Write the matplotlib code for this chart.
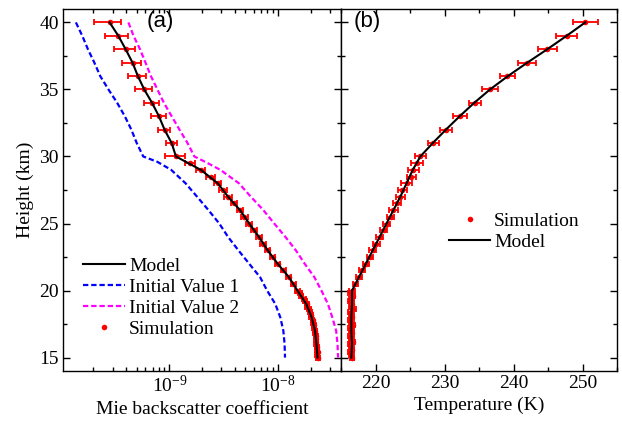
import matplotlib.pyplot as plt
import numpy as np
from matplotlib.ticker import MultipleLocator, FixedLocator, LogLocator, NullFormatter

plt.rcParams['font.family'] = 'Liberation Serif'
plt.rcParams['mathtext.fontset'] = 'stix'
plt.rcParams['font.size'] = 14

# model profiles, 40 km down to 15 km every 1 km
model_height = np.arange(40, 14, -1)
mie_model = [2.82e-10, 3.39e-10, 3.96e-10, 4.58e-10, 5.13e-10, 5.87e-10, 6.93e-10,
             8.02e-10, 9.03e-10, 1.05e-9, 1.15e-9, 1.95e-9, 2.79e-9, 3.47e-9,
             4.47e-9, 5.43e-9, 6.68e-9, 8.04e-9, 9.93e-9, 1.26e-8, 1.51e-8,
             1.82e-8, 2.04e-8, 2.19e-8, 2.26e-8, 2.31e-8]
temp_model = [250.4, 247.7, 244.9, 242.0, 239.2, 236.6, 234.3, 232.2, 230.2, 228.3,
              226.5, 225.4, 224.5, 223.6, 222.6, 221.6, 220.6, 219.6, 218.6, 217.6,
              216.6, 216.6, 216.5, 216.5, 216.6, 216.5]

# simulation heights: 1 km above 30 km, 0.5 km down to 20 km, 0.2 km below
sim_height = np.concatenate([np.arange(40, 29.5, -1.0),
                             np.arange(29.5, 19.9, -0.5),
                             np.arange(19.8, 14.9, -0.2)])
mie_sim = [2.82e-10, 3.39e-10, 3.96e-10, 4.58e-10, 5.13e-10, 5.87e-10, 6.93e-10,
           8.02e-10, 9.03e-10, 1.05e-9, 1.15e-9,
           1.55e-9, 1.95e-9, 2.40e-9, 2.79e-9, 3.13e-9, 3.47e-9, 3.94e-9, 4.47e-9,
           4.90e-9, 5.43e-9, 6.03e-9, 6.68e-9, 7.33e-9, 8.04e-9, 8.91e-9, 9.93e-9,
           1.12e-8, 1.26e-8, 1.38e-8, 1.51e-8,
           1.60e-8, 1.64e-8, 1.74e-8, 1.77e-8, 1.84e-8, 1.86e-8, 1.94e-8, 1.96e-8,
           2.02e-8, 2.03e-8, 2.08e-8, 2.09e-8, 2.14e-8, 2.15e-8, 2.20e-8, 2.20e-8,
           2.24e-8, 2.23e-8, 2.26e-8, 2.25e-8, 2.29e-8, 2.28e-8, 2.31e-8, 2.30e-8,
           2.32e-8]
mie_rel_err = [0.28, 0.24, 0.22, 0.20, 0.18, 0.18, 0.16, 0.15, 0.13, 0.11, 0.20,
               0.10, 0.09, 0.09, 0.08, 0.08, 0.08, 0.07, 0.07, 0.07, 0.07,
               0.06, 0.06, 0.06, 0.06, 0.06, 0.05, 0.05, 0.05, 0.05, 0.05] + [0.04] * 25
temp_sim = [250.4, 247.7, 244.9, 242.0, 239.1, 236.6, 234.4, 232.3, 230.2, 228.4, 226.5,
            226.0, 225.5, 225.2, 224.5, 223.9, 223.6, 223.1, 222.6, 222.2, 221.6,
            221.2, 220.6, 220.1, 219.6, 219.2, 218.6, 218.1, 217.6, 217.1, 216.6,
            216.4, 216.7, 216.5, 216.3, 216.6, 216.5, 216.8, 216.4, 216.5, 216.6,
            216.3, 216.5, 216.7, 216.4, 216.5, 216.6, 216.4, 216.5, 216.7, 216.3,
            216.5, 216.6, 216.4, 216.5, 216.6]
temp_err = [1.8, 1.5, 1.4, 1.3, 1.1, 1.15, 0.85, 1.0, 0.9, 0.75, 0.75,
            0.9, 0.8, 0.6, 0.75, 0.65, 0.7, 0.6, 0.6, 0.55, 0.55,
            0.5, 0.5, 0.5, 0.5, 0.45, 0.45, 0.45, 0.4, 0.4, 0.4] + [0.35] * 25

# initial guesses for the retrieval
init1_height = [40, 39, 38, 37, 36, 35, 34, 33, 32, 31, 30, 29.6, 29, 28, 27, 26, 25,
                24, 23, 22, 21, 20, 19, 18, 17, 16, 15]
init1 = [1.38e-10, 1.58e-10, 1.78e-10, 2.04e-10, 2.31e-10, 2.75e-10, 3.31e-10,
         3.89e-10, 4.47e-10, 5.01e-10, 5.75e-10, 7.76e-10, 1.04e-9, 1.41e-9,
         1.80e-9, 2.29e-9, 2.88e-9, 3.47e-9, 4.32e-9, 5.43e-9, 6.84e-9, 7.94e-9,
         9.44e-9, 1.05e-8, 1.12e-8, 1.15e-8, 1.16e-8]
init2_height = [40, 39, 38, 37, 36, 35, 34, 33, 32, 31, 30, 29.5, 29, 28, 27, 26, 25,
                24, 23, 22, 21, 20, 19, 18, 17, 16, 15]
init2 = [4.20e-10, 4.68e-10, 5.37e-10, 6.03e-10, 6.76e-10, 7.76e-10, 8.91e-10,
         1.05e-9, 1.24e-9, 1.47e-9, 1.70e-9, 2.26e-9, 2.95e-9, 4.37e-9, 5.62e-9,
         7.33e-9, 9.23e-9, 1.17e-8, 1.46e-8, 1.76e-8, 2.16e-8, 2.51e-8, 2.88e-8,
         3.16e-8, 3.43e-8, 3.53e-8, 3.57e-8]

red = '#ff0000'
dash = (0, (2.4, 1.3))

fig = plt.figure(figsize=(6.22, 4.22), dpi=100)
ax1 = fig.add_axes([63 / 622, 51 / 422, 278 / 622, 362 / 422])
ax2 = fig.add_axes([341 / 622, 51 / 422, 276 / 622, 362 / 422])

# (a) Mie backscatter
mie_err = np.array(mie_sim) * np.array(mie_rel_err)
ax1.plot(init1, init1_height, color='#0000ff', lw=1.6, ls=dash, label='Initial Value 1', zorder=2)
ax1.plot(init2, init2_height, color='#ff00ff', lw=1.6, ls=dash, label='Initial Value 2', zorder=2)
ax1.errorbar(mie_sim, sim_height, xerr=mie_err, fmt='none', ecolor=red,
             elinewidth=1.3, capsize=2.5, capthick=1.3, zorder=3)
ax1.plot(mie_sim, sim_height, 'o', color=red, ms=4, mec='none', label='Simulation', zorder=4)
ax1.plot(mie_model, model_height, color='black', lw=1.5, label='Model', zorder=5)

ax1.set_xscale('log')
ax1.set_xlim(1.05e-10, 3.8e-8)
ax1.xaxis.set_major_locator(FixedLocator([1e-9, 1e-8]))
ax1.xaxis.set_minor_locator(LogLocator(base=10, subs=np.arange(2, 10), numticks=20))
ax1.xaxis.set_minor_formatter(NullFormatter())
ax1.set_xlabel('Mie backscatter coefficient', labelpad=3)
ax1.set_ylabel('Height (km)', labelpad=4)
ax1.text(0.30, 0.965, '(a)', transform=ax1.transAxes, fontsize=16,
         family='Liberation Sans', va='center', ha='left')

h, l = ax1.get_legend_handles_labels()
order = [l.index(k) for k in ['Model', 'Initial Value 1', 'Initial Value 2', 'Simulation']]
ax1.legend([h[i] for i in order], [l[i] for i in order], loc='center left',
           bbox_to_anchor=(0.073, 0.2025), frameon=False, borderpad=0, borderaxespad=0,
           handlelength=2.15, handletextpad=0.2, labelspacing=0.18, fontsize=14)

# (b) Temperature
ax2.errorbar(temp_sim, sim_height, xerr=temp_err, fmt='none', ecolor=red,
             elinewidth=1.3, capsize=2.5, capthick=1.3, zorder=3)
ax2.plot(temp_sim, sim_height, 'o', color=red, ms=4, mec='none', label='Simulation', zorder=4)
ax2.plot(temp_model, model_height, color='black', lw=1.5, label='Model', zorder=5)
ax2.set_xlim(215, 255)
ax2.xaxis.set_major_locator(MultipleLocator(10))
ax2.xaxis.set_minor_locator(MultipleLocator(5))
ax2.set_xlabel('Temperature (K)', labelpad=3)
ax2.text(0.047, 0.965, '(b)', transform=ax2.transAxes, fontsize=16,
         family='Liberation Sans', va='center', ha='left')
ax2.legend(loc='center left', bbox_to_anchor=(0.393, 0.385), frameon=False,
           borderpad=0, borderaxespad=0, handlelength=2.1, handletextpad=0.2,
           labelspacing=0.18, fontsize=14)

for ax in (ax1, ax2):
    ax.set_ylim(14, 41)
    ax.yaxis.set_major_locator(MultipleLocator(5))
    ax.yaxis.set_minor_locator(MultipleLocator(2.5))
    ax.tick_params(which='both', direction='in', top=True, right=True, width=1)
    ax.tick_params(which='major', length=5, labelsize=14, pad=3)
    ax.tick_params(which='minor', length=3)
    for s in ax.spines.values():
        s.set_linewidth(1.0)
ax2.tick_params(labelleft=False)

plt.savefig('out.png', dpi=100)
